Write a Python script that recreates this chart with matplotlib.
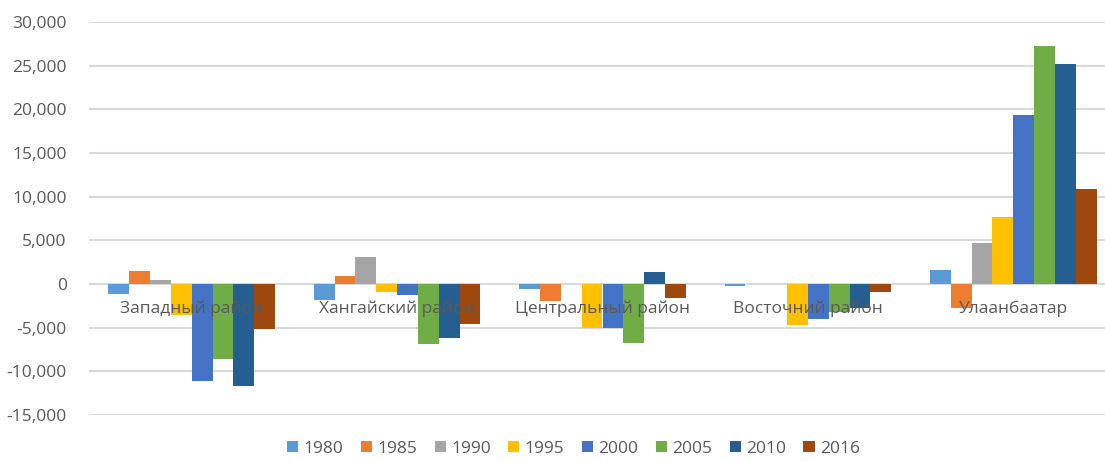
import matplotlib
matplotlib.use('Agg')
import matplotlib.pyplot as plt
import numpy as np

regions = ['Западный район', 'Хангайский район', 'Центральный район',
           'Восточний район', 'Улаанбаатар']
years = ['1980', '1985', '1990', '1995', '2000', '2005', '2010', '2016']

# net migration by region, one list per year
v1980 = [-1200, -1800, -600, -200, 1650]
v1985 = [1500, 900, -2000, 0, -2700]
v1990 = [500, 3100, 0, 0, 4700]
v1995 = [-3500, -900, -5000, -4700, 7700]
v2000 = [-11100, -1300, -5000, -4000, 19400]
v2005 = [-8600, -6900, -6800, -3200, 27300]
v2010 = [-11700, -6200, 1400, -2800, 25200]
v2016 = [-5150, -4600, -1600, -900, 10900]
series = [v1980, v1985, v1990, v1995, v2000, v2005, v2010, v2016]

colors = ['#5B9BD5', '#ED7D31', '#A5A5A5', '#FFC000',
          '#4472C4', '#70AD47', '#255E91', '#9E480E']

plt.rcParams['font.family'] = ['Open Sans', 'DejaVu Sans']
text_color = '#595959'

fig = plt.figure(figsize=(11.05, 4.62), dpi=100)
ax = fig.add_axes([89 / 1105, 1 - 415 / 462, 1027 / 1105, 393 / 462])

x = np.arange(len(regions))
n = len(series)
width = 0.1015
for i, (vals, yr, c) in enumerate(zip(series, years, colors)):
    ax.bar(x + (i - (n - 1) / 2) * width, vals, width, color=c, label=yr, zorder=2)

ax.set_xlim(-0.5, len(regions) - 0.5)
ax.set_ylim(-15000, 30000)
ax.set_yticks(np.arange(-15000, 30001, 5000))
ax.set_yticklabels([f'{v:,}' for v in range(-15000, 30001, 5000)])
ax.yaxis.grid(True, color='#D9D9D9', linewidth=1.5, zorder=0)
ax.tick_params(axis='y', length=0, labelsize=12.5, labelcolor=text_color, pad=16)

for s in ax.spines.values():
    s.set_visible(False)
ax.set_xticks([])
for xi, name in zip(x, regions):
    ax.text(xi, -2800, name, ha='center', va='center', fontsize=12.5,
            color=text_color, zorder=3)

fig.legend(loc='lower center', bbox_to_anchor=(0.519, -0.022), ncol=8,
           frameon=False, fontsize=12.5, labelcolor=text_color,
           handlelength=0.65, handleheight=0.65, handletextpad=0.3, columnspacing=1.0)

fig.savefig('out.png', dpi=100)
